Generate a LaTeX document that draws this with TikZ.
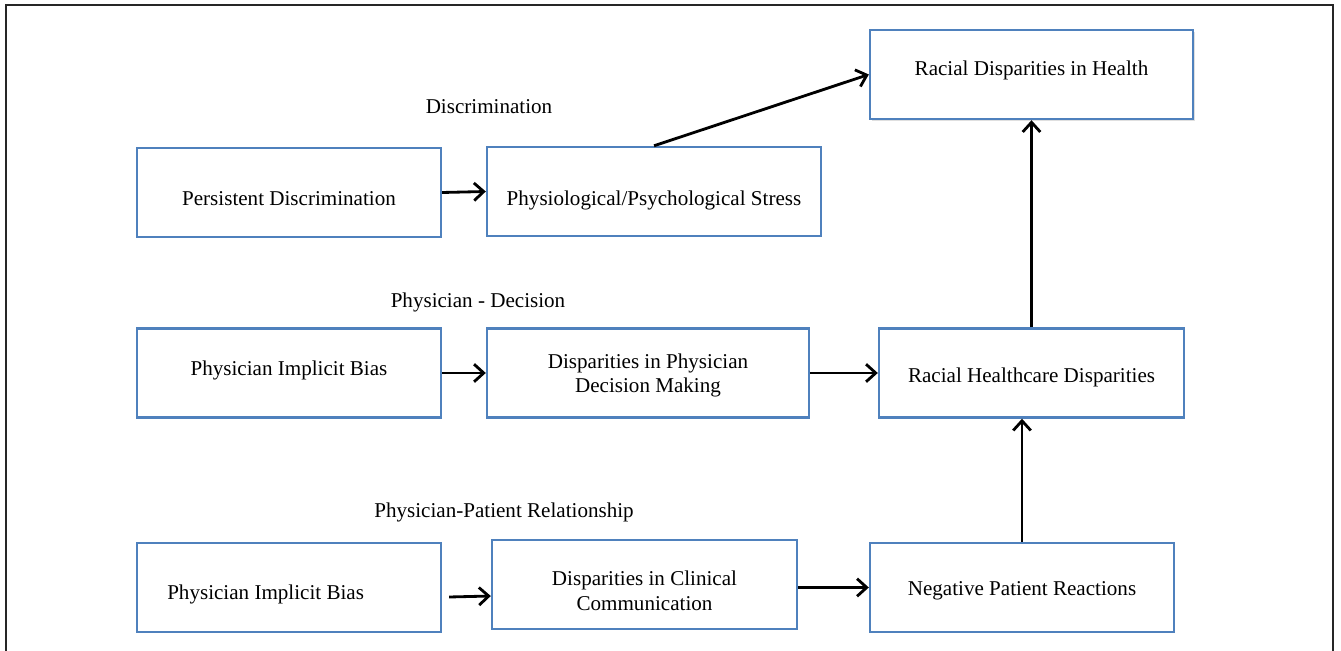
\documentclass[tikz,border=0pt]{standalone}
\usepackage{fontspec}
\setmainfont{Liberation Serif}
\usetikzlibrary{arrows.meta,shadows}
\definecolor{boxblue}{RGB}{79,129,189}

\tikzset{
  box/.style = {draw=boxblue, line width=1.4pt, minimum height=1.78cm, fill=white},
  lbl/.style = {align=center, font=\fontsize{12}{14.2}\selectfont},
  heading/.style = {font=\fontsize{12}{14.2}\selectfont},
  arr/.style = {line width=1.6pt, -{Straight Barb[length=5.5pt,width=10pt,line width=1.6pt]}}
}

\begin{document}
\begin{tikzpicture}[x=0.02cm, y=-0.02cm]
\useasboundingbox (0,0) rectangle (1341,651);
% outer frame
\draw[line width=1pt, black!85] (6,651) -- (6,5) -- (1333,5) -- (1333,651);

% top row
\node[heading] (hdisc) at (489,107) {Discrimination};
\node[box, minimum width=6.46cm, drop shadow={opacity=0.25, shadow xshift=1pt, shadow yshift=-1.2pt},
      label={[lbl, yshift=2.3pt]center:Racial Disparities in Health}] (health) at (1031.5,74.5) {};
\node[box, minimum width=6.08cm,
      label={[lbl, yshift=-3.4pt]center:Persistent Discrimination}] (persist) at (289,192.5) {};
\node[box, minimum width=6.68cm,
      label={[lbl, yshift=-5.1pt]center:Physiological/Psychological Stress}] (stress) at (654,191.5) {};

% middle row
\node[heading] (hdec) at (478,302) {Physician - Decision};
\node[box, minimum width=6.08cm,
      label={[lbl, yshift=1.7pt]center:Physician Implicit Bias}] (bias1) at (289,373) {};
\node[box, minimum width=6.44cm,
      label={[lbl, yshift=-1.4pt]center:Disparities in Physician\\Decision Making}] (decision) at (648,373) {};
\node[box, minimum width=6.10cm,
      label={[lbl, yshift=-2.8pt]center:Racial Healthcare Disparities}] (care) at (1031.5,373) {};

% bottom row
\node[heading] (hrel) at (504,512) {Physician-Patient Relationship};
\node[box, minimum width=6.08cm,
      label={[lbl, xshift=-13.3pt, yshift=-4pt]center:Physician Implicit Bias}] (bias2) at (289,587.5) {};
\node[box, minimum width=6.10cm,
      label={[lbl, yshift=-3.4pt]center:Disparities in Clinical\\Communication}] (clinical) at (644.5,584.5) {};
\node[box, minimum width=6.08cm,
      label={[lbl, yshift=-1.7pt]center:Negative Patient Reactions}] (negative) at (1022,587.5) {};

% arrows
\draw[arr] (persist.east) -- (stress.west);
\draw[arr] (stress.north) -- (health.west);
\draw[arr] (bias1.east) -- (decision.west);
\draw[arr] (decision.east) -- (care.west);
\draw[arr] (care.north) -- (health.south);
\draw[arr] ([shift={(7,9.5)}]bias2.east) -- ([shift={(0,11.5)}]clinical.west);
\draw[arr] (clinical.east |- negative.west) -- (negative.west);
\draw[arr] (negative.north) -- (negative.north |- care.south);
\end{tikzpicture}
\end{document}
